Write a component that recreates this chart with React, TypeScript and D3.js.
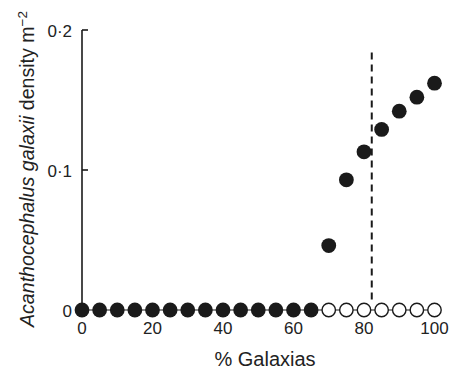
import React from "react";
import * as d3 from "d3";

const galaxiasPct = [0, 5, 10, 15, 20, 25, 30, 35, 40, 45, 50, 55, 60, 65, 70, 75, 80, 85, 90, 95, 100];
const filledDensity = [0, 0, 0, 0, 0, 0, 0, 0, 0, 0, 0, 0, 0, 0, 0.046, 0.093, 0.113, 0.129, 0.142, 0.152, 0.162];
const openPct = [70, 75, 80, 85, 90, 95, 100];
const openDensity = [0, 0, 0, 0, 0, 0, 0];
const thresholdPct = 82.2;
const thresholdTop = 0.184;
const xTicks = [0, 20, 40, 60, 80, 100];
const yTicks = [0, 0.1, 0.2];
const yTickLabels = ["0", "0·1", "0·2"];

export default function App() {
  const W = 450, H = 370;
  const x = d3.scaleLinear().domain([0, 100]).range([82, 434.5]);
  const y = d3.scaleLinear().domain([0, 0.2]).range([310, 30]);
  const font = "'Liberation Sans', Arial, Helvetica, sans-serif";
  const r = 7.4;
  const tickFs = 17;
  const titleFs = 20;
  return (
    <svg width={W} height={H} style={{ position: "absolute", left: 0, top: 0 }} fontFamily={font}>
      {/* y axis */}
      <line x1={x(0)} x2={x(0)} y1={y(0.2)} y2={y(0)} stroke="#1a1a1a" strokeWidth={1.6} />
      {yTicks.map((t, i) => (
        <g key={i}>
          <line x1={x(0)} x2={x(0) + 6} y1={y(t)} y2={y(t)} stroke="#1a1a1a" strokeWidth={1.6} />
          <text x={x(0) - 10} y={y(t) + 1} dy="0.36em" textAnchor="end" fontSize={tickFs} fill="#222">{yTickLabels[i]}</text>
        </g>
      ))}
      {/* x axis */}
      <line x1={x(0)} x2={x(100)} y1={y(0)} y2={y(0)} stroke="#1a1a1a" strokeWidth={1.2} />
      {xTicks.map((t, i) => (
        <text key={i} x={x(t)} y={334} textAnchor="middle" fontSize={tickFs} fill="#222">{t}</text>
      ))}
      <text x={265} y={366} textAnchor="middle" fontSize={titleFs} fill="#222">% Galaxias</text>
      <text transform={`translate(34,${169}) rotate(-90)`} textAnchor="middle" fontSize={19.6} fill="#222">
        <tspan fontStyle="italic">Acanthocephalus galaxii</tspan>
        <tspan> density m</tspan>
        <tspan dy="-7" fontSize={13.5}>−2</tspan>
      </text>
      {/* threshold */}
      <line x1={x(thresholdPct)} x2={x(thresholdPct)} y1={y(thresholdTop)} y2={y(0) - 6} stroke="#1a1a1a" strokeWidth={2} strokeDasharray="7,5" />
      {openPct.map((p, i) => (
        <circle key={"o" + i} cx={x(p)} cy={y(openDensity[i])} r={r - 0.7} fill="#fff" stroke="#1a1a1a" strokeWidth={1.4} />
      ))}
      {galaxiasPct.map((p, i) => (
        <circle key={"f" + i} cx={x(p)} cy={y(filledDensity[i])} r={r} fill="#1a1a1a" />
      ))}
    </svg>
  );
}
